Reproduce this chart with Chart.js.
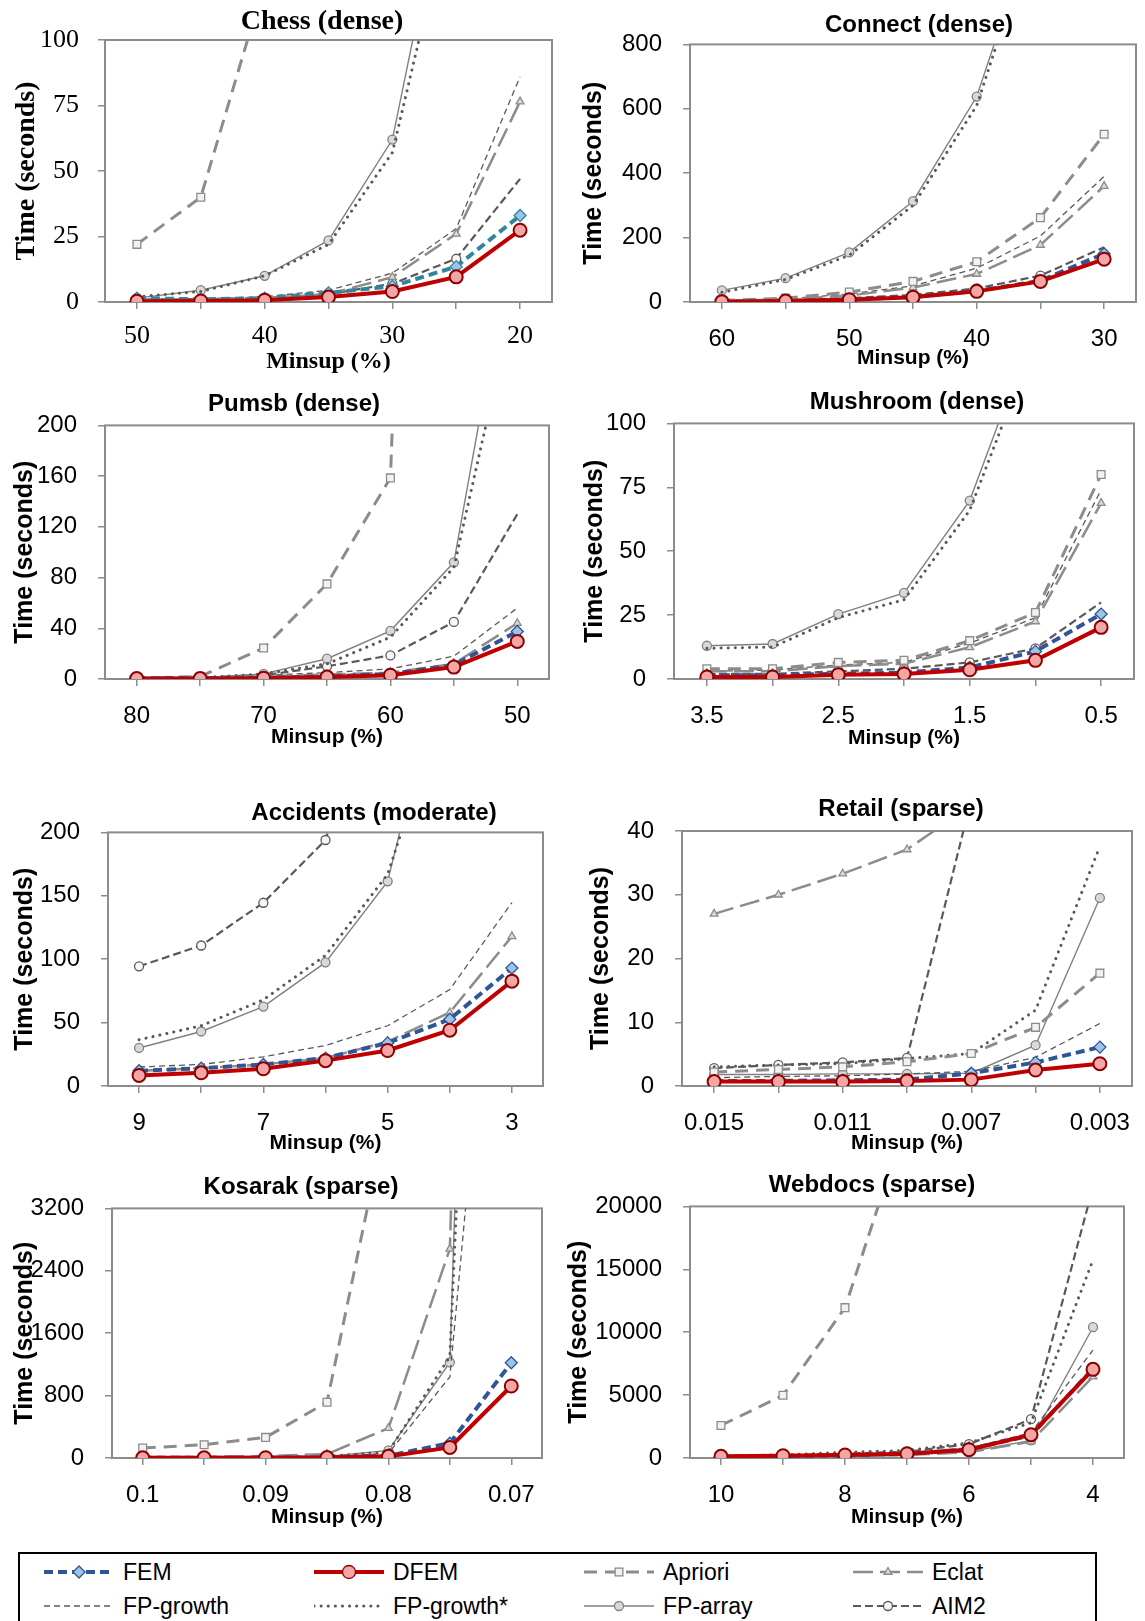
<!DOCTYPE html>
<html>
<head>
<meta charset="utf-8">
<script src="https://cdn.jsdelivr.net/npm/chart.js@4.4.1/dist/chart.umd.min.js"></script>
<style>
  body { margin: 0; background: #fff; }
  #page { position: relative; width: 1145px; height: 1621px; overflow: hidden; background: #fff; }
  #page canvas { position: absolute; }
  #legend { position: absolute; left: 18px; top: 1552px; width: 1075px; height: 100px; border: 2px solid #000; }
  .item { position: absolute; height: 30px; display: flex; align-items: center;
          font-family: 'Liberation Sans', Arial, sans-serif; font-size: 23px; color: #000; }
  .item svg { margin-right: 9px; }
</style>
</head>
<body>
<div id="page">
  <div id="legend"></div>
</div>
<script>
// series order used by every *Times array below
const seriesNames = ['FEM', 'DFEM', 'Apriori', 'Eclat', 'FP-growth', 'FP-growth*', 'FP-array', 'AIM2'];

const chessMinsup = ['50', '45', '40', '35', '30', '25', '20'];
const chessTicks = [0, 25, 50, 75, 100];
const chessTimes = [
  [1.5, 1, 1.5, 3.5, 6, 13.5, 33],
  [0.3, 0.4, 0.7, 1.9, 4, 9.6, 27.4],
  [22, 40, 122, null, null, null, null],
  [1, 1, 1.5, 3, 9.5, 26, 76.5],
  [1, 1.2, 2, 4.5, 11, 28, 86],
  [2, 4, 10, 22, 57, 160, null],
  [1.5, 4.5, 10, 23.5, 62, 181, null],
  [1, 1, 1.5, 3, 7, 16.5, 47]
];

const connectMinsup = ['60', '55', '50', '45', '40', '35', '30'];
const connectTicks = [0, 200, 400, 600, 800];
const connectTimes = [
  [1, 3, 8, 16, 34, 66, 150],
  [1, 3, 7, 15, 33, 64, 133],
  [5, 12, 31, 64, 125, 262, 521],
  [3, 8, 20, 45, 87, 177, 360],
  [4, 10, 25, 50, 105, 205, 390],
  [30, 70, 145, 300, 610, 1215, null],
  [36, 74, 154, 313, 638, 1230, null],
  [2, 6, 12, 22, 42, 82, 170]
];

const pumsbMinsup = ['80', '75', '70', '65', '60', '55', '50'];
const pumsbTicks = [0, 40, 80, 120, 160, 200];
const pumsbTimes = [
  [0.5, 0.5, 1, 2, 4, 11, 37.5],
  [0.3, 0.3, 0.6, 1.5, 3, 9.4, 29.6],
  [0.5, 2, 24.4, 75, 158.6, 1500, null],
  [0.5, 1, 2, 3.5, 5, 12, 44],
  [0.5, 1, 3, 5, 8, 18, 56],
  [0.5, 1, 4, 12, 33, 88, 310],
  [0.5, 1, 4, 16, 38, 92, 370],
  [0.5, 1, 3, 10, 18.6, 45, 130]
];

const mushroomMinsup = ['3.5', '3', '2.5', '2', '1.5', '1', '0.5'];
const mushroomTicks = [0, 25, 50, 75, 100];
const mushroomTimes = [
  [1.5, 1.5, 2, 2.5, 4.5, 10.8, 25.4],
  [0.8, 0.8, 1.7, 2, 3.6, 7.3, 20.2],
  [4, 4, 6.5, 7.3, 15, 26, 80],
  [3, 3, 5, 6, 12.4, 22.5, 68.8],
  [3, 3.5, 5.5, 6.5, 14, 24, 74],
  [12, 12.5, 24, 31, 66, 133, null],
  [13, 13.7, 25.4, 33.7, 69.8, 139, null],
  [2, 2, 3, 4, 6.5, 12, 30]
];

const accidentsMinsup = ['9', '8', '7', '6', '5', '4', '3'];
const accidentsTicks = [0, 50, 100, 150, 200];
const accidentsTimes = [
  [12, 14, 17, 22, 34, 52.7, 93],
  [8.3, 10.4, 13.6, 20, 28, 44, 82.7],
  [null, null, null, null, null, null, null],
  [12, 14, 17, 22, 35, 58, 118],
  [15, 17, 23, 32, 47.5, 76, 144.7],
  [36.5, 47.5, 68, 103, 167, 317, null],
  [30, 43, 62.6, 97.5, 161.4, 360, null],
  [94.4, 110.8, 144.5, 194, 350, null, null]
];

const retailMinsup = ['0.015', '0.013', '0.011', '0.009', '0.007', '0.005', '0.003'];
const retailTicks = [0, 10, 20, 30, 40];
const retailTimes = [
  [0.8, 0.8, 0.9, 1.0, 2.0, 3.7, 6.1],
  [0.7, 0.7, 0.7, 0.8, 1.0, 2.5, 3.5],
  [2.2, 2.6, 3, 3.8, 5.1, 9.2, 17.7],
  [27, 30, 33.3, 37.1, 44, null, null],
  [1.3, 1.5, 1.6, 1.9, 2.3, 4.5, 9.8],
  [3, 3.3, 3.5, 4.3, 5.1, 11.9, 37.6],
  [1.8, 1.8, 1.9, 1.9, 2.0, 6.4, 29.5],
  [2.8, 3.3, 3.7, 4.4, 45, null, null]
];

const kosarakMinsup = ['0.1', '0.095', '0.09', '0.085', '0.08', '0.075', '0.07'];
const kosarakTicks = [0, 800, 1600, 2400, 3200];
const kosarakTimes = [
  [2, 3, 5, 8, 30, 190, 1221],
  [2, 2.5, 4, 6, 21, 136, 923],
  [128, 170, 264, 715, 4500, null, null],
  [10, 15, 25, 50, 383, 2681, 30000],
  [5, 8, 12, 20, 60, 1040, 9500],
  [5, 8, 12, 20, 80, 1300, 19000],
  [5, 8, 12, 20, 98, 1225, 26000],
  [null, null, null, null, null, null, null]
];

const webdocsMinsup = ['10', '9', '8', '7', '6', '5', '4'];
const webdocsTicks = [0, 5000, 10000, 15000, 20000];
const webdocsTimes = [
  [100, 150, 220, 320, 700, 1800, 7100],
  [130, 180, 240, 340, 660, 1850, 7045],
  [2586, 4987, 11952, 27000, null, null, null],
  [50, 100, 150, 250, 450, 1300, 6464],
  [80, 150, 250, 400, 800, 2000, 8575],
  [150, 250, 450, 600, 1200, 2800, 15750],
  [50, 100, 200, 300, 500, 1400, 10396],
  [100, 200, 350, 500, 1100, 3087, 21530]
];

const styles = {
  'FEM':        { color: '#2F5597', width: 4,   dash: [9, 5],   point: 'rectRot',  r: 6,   fill: '#9DC3E6', edge: '#2F5597', order: 1 },
  'DFEM':       { color: '#C00000', width: 4,   dash: [],       point: 'circle',   r: 6.5, fill: '#F4A6A6', edge: '#8B0000', order: 0 },
  'Apriori':    { color: '#8C8C8C', width: 3,   dash: [13, 8],  point: 'rect',     r: 5.5, fill: '#F2F2F2', edge: '#8C8C8C', order: 2 },
  'Eclat':      { color: '#8C8C8C', width: 2.5, dash: [20, 7],  point: 'triangle', r: 4.5, fill: '#D9D9D9', edge: '#8C8C8C', order: 3 },
  'FP-growth':  { color: '#595959', width: 1.3, dash: [6, 4],   point: false,      r: 0,   order: 4 },
  'FP-growth*': { color: '#595959', width: 3,   dash: [0.1, 7], point: false,      r: 0,   order: 5, cap: 'round' },
  'FP-array':   { color: '#808080', width: 1.4, dash: [],       point: 'circle',   r: 4.5, fill: '#D9D9D9', edge: '#808080', order: 6 },
  'AIM2':       { color: '#595959', width: 2.2, dash: [8, 4],   point: 'circle',   r: 4.5, fill: '#F7F7F7', edge: '#595959', order: 7 }
};

const sans = { family: "'Liberation Sans', Arial, sans-serif", tick: 24, title: 24, yTitle: 25, xTitle: 21, tickPad: 16, yPad: 21 };
const serif = { family: "'Liberation Serif', 'Times New Roman', serif", tick: 26, title: 28, yTitle: 28, xTitle: 24, tickPad: 12, yPad: 19 };

// aim2Open: the last AIM2 point is drawn without a marker in the original
const panels = [
  { name: 'Chess (dense)', cats: chessMinsup, ticks: chessTicks, times: chessTimes, f: serif, femColor: '#31859C', aim2Open: true,
    area: [105, 40, 552, 302], titleX: 322, titleY: 22, yTitleX: 27, xTitleY: 362 },
  { name: 'Connect (dense)', cats: connectMinsup, ticks: connectTicks, times: connectTimes, f: sans, aim2Open: true,
    area: [690, 42, 1136, 302], titleX: 919, titleY: 23, yTitleX: 594, xTitleY: 358 },
  { name: 'Pumsb (dense)', cats: pumsbMinsup, ticks: pumsbTicks, times: pumsbTimes, f: sans, aim2Open: true,
    area: [105, 425, 549, 679], titleX: 294, titleY: 404, yTitleX: 25, xTitleY: 737 },
  { name: 'Mushroom (dense)', cats: mushroomMinsup, ticks: mushroomTicks, times: mushroomTimes, f: sans, aim2Open: true,
    area: [674, 423, 1134, 679], titleX: 917, titleY: 402, yTitleX: 595, xTitleY: 738 },
  { name: 'Accidents (moderate)', cats: accidentsMinsup, ticks: accidentsTicks, times: accidentsTimes, f: sans,
    area: [108, 830, 543, 1086], titleX: 374, titleY: 811, yTitleX: 25, xTitleY: 1143 },
  { name: 'Retail (sparse)', cats: retailMinsup, ticks: retailTicks, times: retailTimes, f: sans,
    area: [682, 831, 1132, 1086], titleX: 901, titleY: 809, yTitleX: 601, xTitleY: 1143 },
  { name: 'Kosarak (sparse)', cats: kosarakMinsup, ticks: kosarakTicks, times: kosarakTimes, f: sans,
    area: [112, 1208, 542, 1458], titleX: 301, titleY: 1187, yTitleX: 25, xTitleY: 1517 },
  { name: 'Webdocs (sparse)', cats: webdocsMinsup, ticks: webdocsTicks, times: webdocsTimes, f: sans,
    area: [690, 1206, 1124, 1458], titleX: 872, titleY: 1185, yTitleX: 579, xTitleY: 1517 }
];

// plot area frame, drawn under the lines like in Excel
const plotBorder = {
  id: 'plotBorder',
  beforeDatasetsDraw(chart) {
    const { ctx, chartArea: a } = chart;
    ctx.save();
    ctx.strokeStyle = '#8C8C8C';
    ctx.lineWidth = 2;
    ctx.strokeRect(a.left, a.top, a.right - a.left, a.bottom - a.top);
    ctx.restore();
  }
};

Chart.defaults.color = '#000';
Chart.defaults.animation = false;

panels.forEach(p => {
  const f = p.f;
  const [L, T, R, B] = p.area;
  const tLH = f.title * 1.2, yLH = f.yTitle * 1.2, xLH = f.xTitle * 1.2;
  const x0 = Math.round(p.yTitleX - yLH / 2);
  const y0 = Math.round(p.titleY - tLH / 2);
  const padR = Math.max(0, Math.round(2 * (p.titleX - x0) - (R - x0)));
  const w = R - x0 + padR;
  const h = Math.round(p.xTitleY + xLH / 2 - y0);

  const canvas = document.createElement('canvas');
  canvas.width = w;
  canvas.height = h;
  canvas.style.left = x0 + 'px';
  canvas.style.top = y0 + 'px';
  document.getElementById('page').appendChild(canvas);

  const tickFont = { family: f.family, size: f.tick };
  const gridOpts = { drawOnChartArea: false, tickLength: 7, color: '#8C8C8C', lineWidth: 1.5 };
  const last = p.cats.length - 1;

  new Chart(canvas, {
    type: 'line',
    data: {
      labels: p.cats,
      datasets: seriesNames.map((name, i) => {
        const s = styles[name];
        const color = (name === 'FEM' && p.femColor) ? p.femColor : s.color;
        const radius = (name === 'AIM2' && p.aim2Open)
          ? p.cats.map((c, j) => j === last ? 0 : s.r)
          : s.r;
        return {
          label: name,
          data: p.times[i],
          borderColor: color,
          borderWidth: s.width,
          borderDash: s.dash,
          borderCapStyle: s.cap || 'butt',
          pointStyle: s.point,
          pointRadius: radius,
          pointHoverRadius: radius,
          pointBackgroundColor: s.fill,
          pointBorderColor: name === 'FEM' ? color : s.edge,
          pointBorderWidth: name === 'DFEM' ? 2 : 1.3,
          order: s.order,
          tension: 0,
          fill: false
        };
      })
    },
    options: {
      responsive: false,
      events: [],
      layout: { padding: 0 },
      plugins: {
        legend: { display: false },
        tooltip: { enabled: false },
        title: {
          display: true,
          text: p.name,
          color: '#000',
          font: { family: f.family, size: f.title, weight: 'bold' },
          padding: { top: 0, bottom: T - y0 - tLH }
        }
      },
      scales: {
        x: {
          type: 'category',
          offset: true,
          grid: Object.assign({ offset: false }, gridOpts),
          border: { display: false },
          ticks: {
            autoSkip: false,
            maxRotation: 0,
            padding: f.tickPad,
            font: tickFont,
            color: '#000',
            callback: function(value, index) {
              return index % 2 ? '' : this.getLabelForValue(value);
            }
          },
          title: { display: true, text: 'Minsup (%)', color: '#000', padding: 0,
                   font: { family: f.family, size: f.xTitle, weight: 'bold' } },
          afterFit(scale) { scale.height = h - (B - y0); }
        },
        y: {
          min: p.ticks[0],
          max: p.ticks[p.ticks.length - 1],
          grid: gridOpts,
          border: { display: false },
          ticks: {
            stepSize: p.ticks[1] - p.ticks[0],
            padding: f.yPad,
            font: tickFont,
            color: '#000',
            callback: v => String(v)
          },
          title: { display: true, text: 'Time (seconds)', color: '#000', padding: 0,
                   font: { family: f.family, size: f.yTitle, weight: 'bold' } },
          afterFit(scale) { scale.width = L - x0; }
        },
        // empty right box, only there to place the title like the original
        pad: {
          type: 'linear',
          axis: 'y',
          position: 'right',
          grid: { display: false },
          ticks: { display: false },
          border: { display: false },
          afterFit(scale) { scale.width = padR; }
        }
      }
    },
    plugins: [plotBorder]
  });
});

// shared legend
function legendIcon(name) {
  const s = styles[name];
  const dash = s.dash.length ? ` stroke-dasharray="${s.dash.join(' ')}"` : '';
  const cap = s.cap || 'butt';
  const cx = 35, cy = 10, r = s.r;
  let mark = '';
  const edge = `fill="${s.fill}" stroke="${s.edge}" stroke-width="1.3"`;
  if (s.point === 'circle') mark = `<circle cx="${cx}" cy="${cy}" r="${r}" ${edge}/>`;
  if (s.point === 'rect') { const a = r * Math.SQRT1_2; mark = `<rect x="${cx - a}" y="${cy - a}" width="${2 * a}" height="${2 * a}" ${edge}/>`; }
  if (s.point === 'rectRot') mark = `<polygon points="${cx},${cy - r} ${cx + r},${cy} ${cx},${cy + r} ${cx - r},${cy}" ${edge}/>`;
  if (s.point === 'triangle') mark = `<polygon points="${cx},${cy - r} ${cx + r * 0.87},${cy + r / 2} ${cx - r * 0.87},${cy + r / 2}" ${edge}/>`;
  return `<svg width="70" height="20"><line x1="0" y1="10" x2="70" y2="10" stroke="${s.color}" stroke-width="${s.width}"${dash} stroke-linecap="${cap}"/>${mark}</svg>`;
}

const legendCols = [44, 314, 584, 853];
const legendRows = [1572, 1606];
const legendBox = document.getElementById('legend');
seriesNames.forEach((name, i) => {
  const div = document.createElement('div');
  div.className = 'item';
  div.style.left = (legendCols[i % 4] - 20) + 'px';
  div.style.top = (legendRows[Math.floor(i / 4)] - 15 - 1554) + 'px';
  div.innerHTML = legendIcon(name) + '<span>' + name + '</span>';
  legendBox.appendChild(div);
});
</script>
</body>
</html>
